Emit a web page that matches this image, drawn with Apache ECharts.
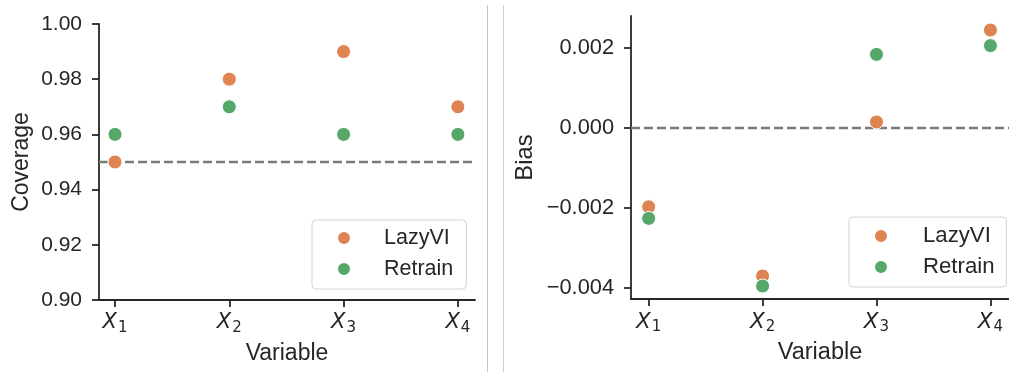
<!DOCTYPE html>
<html>
<head>
<meta charset="utf-8">
<script src="https://cdn.jsdelivr.net/npm/echarts@6/dist/echarts.min.js"></script>
<style>
  html, body { margin: 0; padding: 0; background: #fff; }
  #chart { width: 1009px; height: 372px; }
</style>
</head>
<body>
<div id="chart"></div>
<script>
// Variables on the horizontal axis (positions 0..3)
const variables = ['1', '2', '3', '4'];
const variablePos = [0, 1, 2, 3];

// Coverage per variable
const coverageLazyVI = [0.95, 0.98, 0.99, 0.97];
const coverageRetrain = [0.96, 0.97, 0.96, 0.96];
const coverageTarget = 0.95;
const coverageTicks = [0.90, 0.92, 0.94, 0.96, 0.98, 1.00];

// Bias per variable
const biasLazyVI = [-0.00197, -0.0037, 0.00015, 0.00245];
const biasRetrain = [-0.00226, -0.00395, 0.00184, 0.00206];
const biasTarget = 0;
const biasTicks = [-0.004, -0.002, 0.000, 0.002];

const ORANGE = '#dd8452';
const GREEN = '#55a868';
const INK = '#262626';
const FONT = '"Liberation Sans", Arial, sans-serif';

const pairs = (ys) => variablePos.map((x, i) => [x, ys[i]]);

function xAxisCfg(gridIndex, min, max, fs) {
  return {
    type: 'value', gridIndex, min, max,
    name: 'Variable', nameLocation: 'middle', nameGap: 42,
    nameTextStyle: { fontFamily: FONT, fontSize: fs + 2, color: INK },
    splitLine: { show: false },
    axisLine: { show: true, onZero: false, lineStyle: { color: INK, width: 1.8 } },
    axisTick: { show: true, length: 7, lineStyle: { color: INK, width: 1.8 }, customValues: variablePos },
    axisLabel: {
      customValues: variablePos, margin: 10,
      formatter: (v) => '{x|X}{s|' + variables[Math.round(v)] + '}',
      rich: {
        x: { fontFamily: '"DejaVu Sans"', fontStyle: 'italic', fontSize: fs, color: INK },
        s: { fontFamily: '"DejaVu Sans"', fontSize: 15, color: INK, padding: [11, 0, 0, 1] }
      }
    }
  };
}

function yAxisCfg(gridIndex, min, max, ticks, name, nameGap, fmt, fs) {
  return {
    type: 'value', gridIndex, min, max,
    name, nameLocation: 'middle', nameGap,
    nameTextStyle: { fontFamily: FONT, fontSize: fs + 2, color: INK },
    splitLine: { show: false },
    axisLine: { show: true, onZero: false, lineStyle: { color: INK, width: 1.8 } },
    axisTick: { show: true, length: 7, lineStyle: { color: INK, width: 1.8 }, customValues: ticks },
    axisLabel: { customValues: ticks, margin: 17, fontFamily: FONT, fontSize: fs, color: INK, formatter: fmt }
  };
}

function scatter(name, data, color, idx) {
  return {
    type: 'scatter', name, data, xAxisIndex: idx, yAxisIndex: idx,
    symbol: 'circle', symbolSize: 14,
    itemStyle: { color, borderColor: '#fff', borderWidth: 1, opacity: 1 },
    emphasis: { disabled: true }, z: 3
  };
}

function refLine(value, idx) {
  return {
    type: 'scatter', data: [], xAxisIndex: idx, yAxisIndex: idx, silent: true,
    markLine: {
      z: 1, silent: true, symbol: 'none', label: { show: false },
      lineStyle: { color: '#7a7a7a', width: 2.3, type: [9, 4] },
      data: [{ yAxis: value }]
    }
  };
}

function legendCfg(left, top, padding, textPad, fs) {
  return {
    orient: 'vertical', left, top, padding,
    data: ['LazyVI', 'Retrain'], selectedMode: false,
    icon: 'circle', itemWidth: 14, itemHeight: 14, itemGap: 9,
    borderColor: '#d4d4d4', borderWidth: 1, borderRadius: 4,
    backgroundColor: 'rgba(255,255,255,0.8)',
    textStyle: { fontFamily: FONT, fontSize: fs, color: INK, lineHeight: 22, padding: [0, 0, 0, textPad] }
  };
}

const chart = echarts.init(document.getElementById('chart'), null, { renderer: 'canvas' });
chart.setOption({
  backgroundColor: '#fff',
  animation: false,
  graphic: [
    { type: 'line', shape: { x1: 487.5, y1: 5, x2: 487.5, y2: 372 }, style: { stroke: '#c6c6c6', lineWidth: 1 } },
    { type: 'line', shape: { x1: 503.5, y1: 5, x2: 503.5, y2: 372 }, style: { stroke: '#d0d0d0', lineWidth: 1 } }
  ],
  grid: [
    { left: 99, right: 1009 - 475, top: 24, bottom: 72, containLabel: false },
    { left: 631, right: -8, top: 16, bottom: 73, containLabel: false }
  ],
  xAxis: [xAxisCfg(0, -0.14, 3.15, 21), xAxisCfg(1, -0.155, 3.163, 21.5)],
  yAxis: [
    yAxisCfg(0, 0.90, 1.00, coverageTicks, 'Coverage', 66, (v) => v.toFixed(2), 21),
    yAxisCfg(1, -0.004275, 0.0028, biasTicks, 'Bias', 94, (v) => v.toFixed(3).replace('-', '\u2212'), 21.8)
  ],
  legend: [
    legendCfg(312, 220, [7, 13, 9, 24], 28, 21.5),
    legendCfg(849, 217, [8, 12, 9, 24], 30, 22.2)
  ],
  series: [
    refLine(coverageTarget, 0),
    scatter('LazyVI', pairs(coverageLazyVI), ORANGE, 0),
    scatter('Retrain', pairs(coverageRetrain), GREEN, 0),
    refLine(biasTarget, 1),
    scatter('LazyVI', pairs(biasLazyVI), ORANGE, 1),
    scatter('Retrain', pairs(biasRetrain), GREEN, 1)
  ]
});
</script>
</body>
</html>
